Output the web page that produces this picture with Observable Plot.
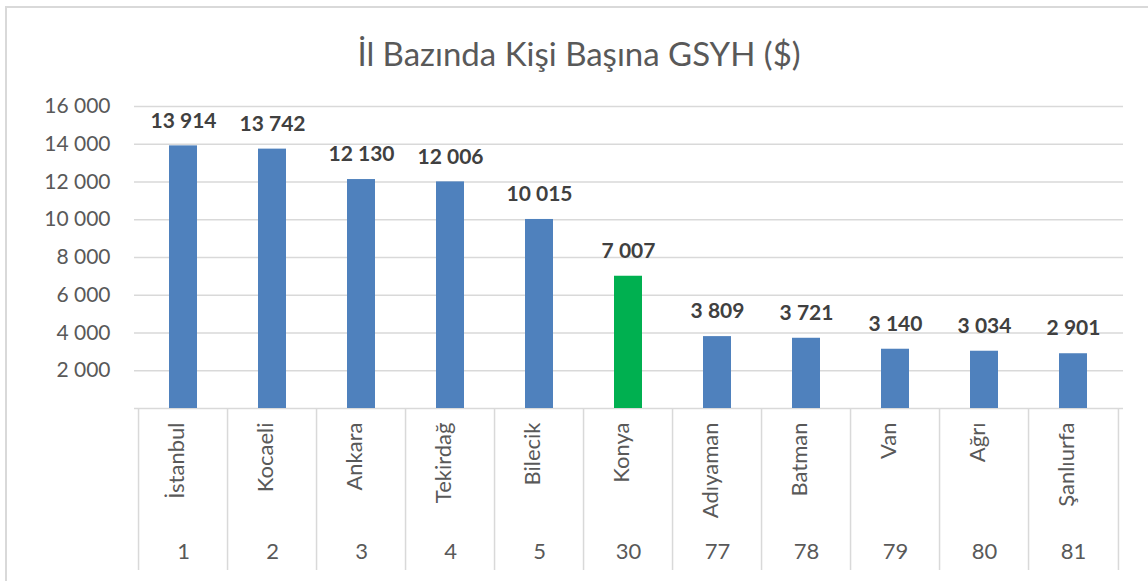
<!DOCTYPE html>
<html>
<head>
<meta charset="utf-8">
<script src="https://cdn.jsdelivr.net/npm/d3@7"></script>
<script src="https://cdn.jsdelivr.net/npm/@observablehq/plot@0.6"></script>
<style>
  html, body { margin: 0; padding: 0; background: #fff; overflow: hidden; }
  #wrap { position: relative; width: 1148px; height: 581px; }
  #border { position: absolute; left: 5px; top: 6px; width: 1300px; height: 700px;
            border-left: 2px solid #d9d9d9; border-top: 2px solid #d9d9d9; pointer-events: none; }
  #chart { position: absolute; left: 0; top: 0; }
</style>
</head>
<body>
<div id="wrap"><div id="chart"></div><div id="border"></div></div>
<script>
const title = "İl Bazında Kişi Başına GSYH ($)";
const provinces = ["İstanbul", "Kocaeli", "Ankara", "Tekirdağ", "Bilecik", "Konya", "Adıyaman", "Batman", "Van", "Ağrı", "Şanlıurfa"];
const ranks = [1, 2, 3, 4, 5, 30, 77, 78, 79, 80, 81];
const gdp = [13914, 13742, 12130, 12006, 10015, 7007, 3809, 3721, 3140, 3034, 2901];
const highlighted = ["Konya"];
const yTicks = [2000, 4000, 6000, 8000, 10000, 12000, 14000, 16000];

const data = provinces.map((p, i) => ({province: p, rank: ranks[i], value: gdp[i]}));
const locale = d3.formatLocale({decimal: ",", thousands: " ", grouping: [3], currency: ["", ""]});
const fmt = locale.format(",d");

const W = 1148, H = 581, ML = 134, MR = 25, MT = 106, MB = 173;
const step = (W - ML - MR) / provinces.length;
const grey = "#d9d9d9";
const txt = "#595959";

const chart = Plot.plot({
  width: W, height: H,
  marginLeft: ML, marginRight: MR, marginTop: MT, marginBottom: MB,
  style: {fontFamily: "Lato, 'Open Sans', sans-serif", background: "transparent"},
  x: {domain: provinces, paddingInner: 0.68, paddingOuter: 0.34, axis: null},
  y: {domain: [0, 16000], axis: null},
  marks: [
    Plot.gridY(yTicks, {stroke: grey, strokeOpacity: 1, strokeWidth: 1.3}),
    Plot.ruleY([0], {stroke: grey, strokeWidth: 1.5}),
    Plot.axisY(yTicks, {tickSize: 0, tickPadding: 24, tickFormat: fmt, fontSize: 21, fill: txt, label: null}),
    Plot.barY(data, {x: "province", y: "value",
      fill: d => highlighted.includes(d.province) ? "#00B050" : "#4F81BD"}),
    Plot.text(data, {x: "province", y: "value", text: d => fmt(d.value), dy: -25,
      fontSize: 21, fontWeight: "bold", fill: "#404040"}),
    Plot.ruleX(provinces, {dx: -step / 2, insetTop: H - MT - MB, insetBottom: -162, stroke: grey, strokeWidth: 1.5}),
    Plot.ruleX(provinces.slice(-1), {dx: step / 2, insetTop: H - MT - MB, insetBottom: -162, stroke: grey, strokeWidth: 1.5}),
    Plot.text(provinces, {x: d => d, frameAnchor: "bottom", rotate: -90, textAnchor: "end", dy: 14,
      fontSize: 22, fill: txt}),
    Plot.text(data, {x: "province", text: d => String(d.rank), frameAnchor: "bottom", dy: 150,
      fontSize: 22, fill: txt}),
    Plot.text([title], {frameAnchor: "top", dx: -50, dy: -64, fontSize: 33, fill: txt})
  ]
});
document.getElementById("chart").appendChild(chart);
</script>
</body>
</html>
